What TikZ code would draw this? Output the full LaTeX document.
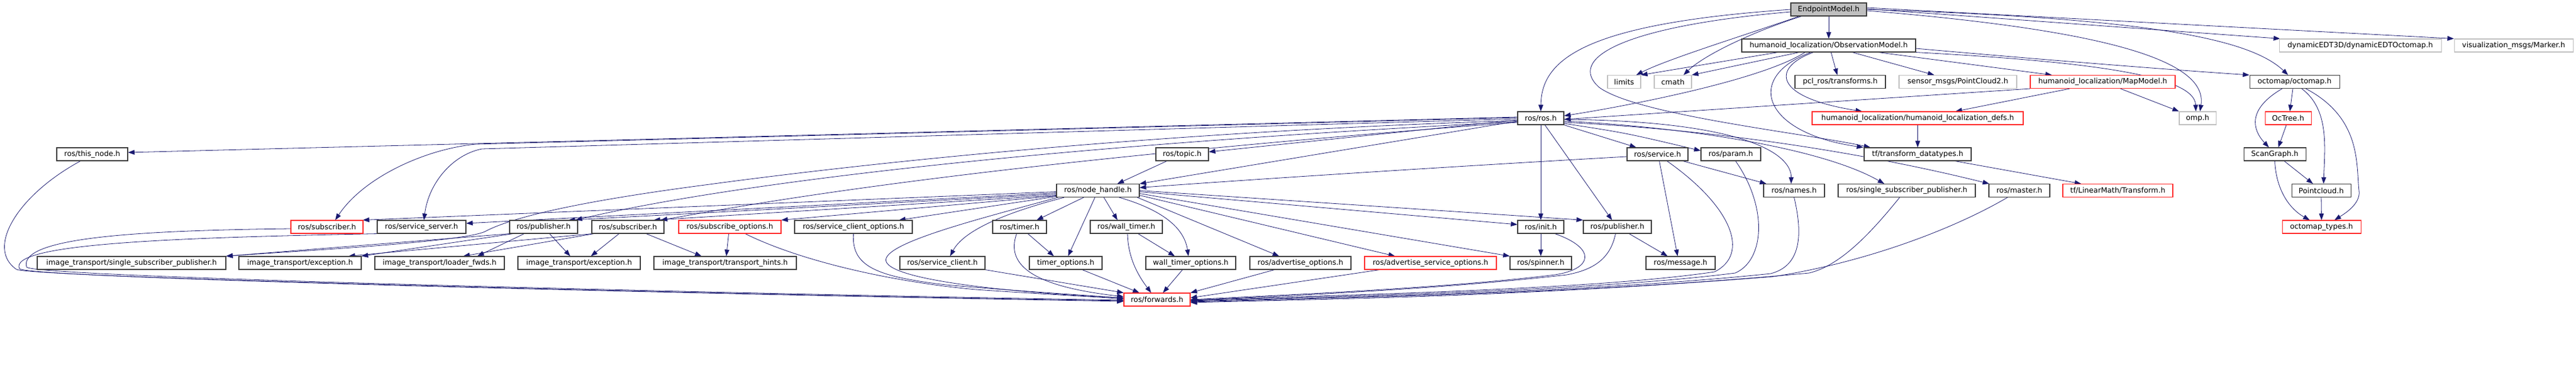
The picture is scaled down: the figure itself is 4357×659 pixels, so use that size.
\documentclass[tikz,border=0pt]{standalone}
\usepackage{fontspec}
\setmainfont{DejaVu Sans}
\usetikzlibrary{arrows.meta}
\definecolor{edgeblue}{RGB}{25,25,112}
\definecolor{nodegray}{RGB}{191,191,191}
\definecolor{rootfill}{RGB}{191,191,191}
\definecolor{redbox}{RGB}{255,40,40}
\definecolor{blackbox}{RGB}{60,60,60}
\pgfdeclarelayer{bg}
\pgfsetlayers{bg,main}
\begin{document}
\begin{tikzpicture}[x=1pt,y=-1pt,
 box/.style={draw=blackbox, line width=1.1pt, minimum height=22pt, inner sep=0pt, font=\fontsize{12.4}{14}\selectfont, fill=white},
 rbox/.style={box, draw=redbox},
 gbox/.style={box, draw=nodegray},
 e/.style={draw=edgeblue, line width=0.8pt, -{Triangle[length=11pt,width=8pt]}},
]
% nodes
\node[box, fill=rootfill, minimum width=128pt] (n0) at (3093,16) {EndpointModel.h};
\node[box, minimum width=294pt] (obs) at (3093,77) {humanoid\_localization/ObservationModel.h};
\node[gbox, minimum width=274pt] (dyn) at (3992,77) {dynamicEDT3D/dynamicEDTOctomap.h};
\node[gbox, minimum width=201pt] (mark) at (4251.5,77) {visualization\_msgs/Marker.h};
\node[gbox, minimum width=56pt] (lim) at (2747,138.5) {limits};
\node[gbox, minimum width=63pt] (cmath) at (2829.5,138.5) {cmath};
\node[box, minimum width=153pt] (pcl) at (3112.5,138.5) {pcl\_ros/transforms.h};
\node[gbox, minimum width=199pt] (sens) at (3311.5,138.5) {sensor\_msgs/PointCloud2.h};
\node[rbox, minimum width=245pt] (mapm) at (3556.5,138.5) {humanoid\_localization/MapModel.h};
\node[box, minimum width=152pt] (octo) at (3881,138.5) {octomap/octomap.h};
\node[box, minimum width=78pt] (ros) at (2606,200) {ros/ros.h};
\node[rbox, minimum width=357pt] (defs) at (3243.5,200) {humanoid\_localization/humanoid\_localization\_defs.h};
\node[gbox, minimum width=62pt] (omp) at (3717,200) {omp.h};
\node[rbox, minimum width=78pt] (octree) at (3870,200) {OcTree.h};
\node[box, minimum width=120pt] (thisn) at (156,261) {ros/this\_node.h};
\node[box, minimum width=89pt] (topic) at (1999.5,261) {ros/topic.h};
\node[box, minimum width=103pt] (serv) at (2803.5,261) {ros/service.h};
\node[box, minimum width=101pt] (param) at (2927.5,261) {ros/param.h};
\node[box, minimum width=181pt] (tfdt) at (3243.5,261) {tf/transform\_datatypes.h};
\node[box, minimum width=105pt] (scang) at (3847.5,261) {ScanGraph.h};
\node[box, minimum width=140pt] (nh) at (1857,322.5) {ros/node\_handle.h};
\node[box, minimum width=103pt] (names) at (3034.5,322.5) {ros/names.h};
\node[box, minimum width=232pt] (ssp) at (3225,322.5) {ros/single\_subscriber\_publisher.h};
\node[box, minimum width=103pt] (master) at (3415.5,322.5) {ros/master.h};
\node[rbox, minimum width=186pt] (tflm) at (3582,322.5) {tf/LinearMath/Transform.h};
\node[box, minimum width=100pt] (pcloud) at (3926,322.5) {Pointcloud.h};
\node[rbox, minimum width=122pt] (subr) at (553,384) {ros/subscriber.h};
\node[box, minimum width=150pt] (ssrv) at (713,384) {ros/service\_server.h};
\node[box, minimum width=115pt] (pub1) at (919.5,384) {ros/publisher.h};
\node[box, minimum width=122pt] (subb) at (1062,384) {ros/subscriber.h};
\node[rbox, minimum width=173pt] (subo) at (1234.5,384) {ros/subscribe\_options.h};
\node[box, minimum width=199pt] (sco) at (1443.5,384) {ros/service\_client\_options.h};
\node[box, minimum width=91pt] (timer) at (1724.5,384) {ros/timer.h};
\node[box, minimum width=122pt] (wtimer) at (1905,384) {ros/wall\_timer.h};
\node[box, minimum width=78pt] (init) at (2606,384) {ros/init.h};
\node[box, minimum width=115pt] (pub2) at (2735.5,384) {ros/publisher.h};
\node[rbox, minimum width=133pt] (otypes) at (3926.5,384) {octomap\_types.h};
\node[box, minimum width=319pt] (itssp) at (222.5,445) {image\_transport/single\_subscriber\_publisher.h};
\node[box, minimum width=207pt] (itex1) at (507.5,445) {image\_transport/exception.h};
\node[box, minimum width=219pt] (itlf) at (743.5,445) {image\_transport/loader\_fwds.h};
\node[box, minimum width=207pt] (itex2) at (979.5,445) {image\_transport/exception.h};
\node[box, minimum width=241pt] (itth) at (1226.5,445) {image\_transport/transport\_hints.h};
\node[box, minimum width=144pt] (sclient) at (1594,445) {ros/service\_client.h};
\node[box, minimum width=123pt] (topt) at (1802.5,445) {timer\_options.h};
\node[box, minimum width=152pt] (wtopt) at (2014,445) {wall\_timer\_options.h};
\node[box, minimum width=171pt] (advo) at (2199.5,445) {ros/advertise\_options.h};
\node[rbox, minimum width=223pt] (advso) at (2419.5,445) {ros/advertise\_service\_options.h};
\node[box, minimum width=104pt] (spin) at (2606,445) {ros/spinner.h};
\node[box, minimum width=117pt] (msg) at (2842.5,445) {ros/message.h};
\node[rbox, minimum width=112pt] (fwd) at (1957,507) {ros/forwards.h};

\begin{pgfonlayer}{bg}
\path[fill=white, use as bounding box] (0,0) rectangle (4357,659);
% root
\draw[e] (n0.south) -- (obs.north);
\draw[e] (n0.west) .. controls (2680,40) and (2607,100) .. (ros.north);
\draw[e] ([yshift=-4]n0.west) .. controls (2740,45) and (2650,100) .. (2705,148) .. controls (2770,195) and (3050,225) .. ([xshift=-80]tfdt.north);
\draw[e] ([xshift=-50]n0.south) .. controls (2950,60) and (2820,100) .. ([xshift=-8]lim.north east);
\draw[e] ([xshift=-46]n0.south) .. controls (2960,55) and (2880,95) .. ([xshift=-14]cmath.north east);
\draw[e] ([yshift=-2]n0.east) .. controls (3550,50) and (3735,100) .. ([xshift=4]omp.north);
\draw[e] (n0.east) .. controls (3600,30) and (3800,60) .. ([xshift=-11]octo.north);
\draw[e] ([yshift=1]n0.east) -- ([xshift=2]dyn.north west);
\draw[e] ([yshift=3]n0.east) -- (mark.north west);
% observation model
\draw[e] ([xshift=-86]obs.south) -- (lim.north east);
\draw[e] ([xshift=-50]obs.south) -- (cmath.north east);
\draw[e] ([xshift=-40]obs.south) .. controls (2980,135) and (2760,178) .. ([yshift=4]ros.east);
\draw[e] ([xshift=4]obs.south) -- ([xshift=-5]pcl.north);
\draw[e] ([xshift=40]obs.south) -- ([xshift=-40]sens.north);
\draw[e] ([xshift=84]obs.south) -- ([xshift=-86]mapm.north);
\draw[e] ([xshift=-26]obs.south) .. controls (2995,115) and (3000,165) .. ([xshift=-94]defs.north);
\draw[e] ([xshift=-30]obs.south) .. controls (2950,130) and (2980,225) .. ([xshift=-92]tfdt.north);
\draw[e] (obs.south east) .. controls (3550,105) and (3712,130) .. ([xshift=-3]omp.north);
\draw[e] ([yshift=-5]obs.east) .. controls (3500,105) and (3700,120) .. (octo.north west);
% map model
\draw[e] (mapm.south west) -- ([yshift=-2]ros.east);
\draw[e] ([xshift=-56]mapm.south) -- ([xshift=64]defs.north);
\draw[e] ([xshift=30]mapm.south) -- (omp.north west);
\draw[e] (defs.south) -- (tfdt.north);
\draw[e] ([xshift=63]tfdt.south) -- ([xshift=-62]tflm.north);
% octomap
\draw[e] ([xshift=-3]octo.south) -- ([xshift=3]octree.north);
\draw[e] ([xshift=-21]octo.south) .. controls (3800,185) and (3810,220) .. ([xshift=-10]scang.north);
\draw[e] ([xshift=-3]octree.south) -- ([xshift=6]scang.north);
\draw[e] ([xshift=12]octo.south) .. controls (3940,185) and (3932,250) .. ([xshift=4]pcloud.north);
\draw[e] ([xshift=19]octo.south) .. controls (3995,200) and (3985,280) .. (3990,323) .. controls (3993,345) and (3965,362) .. ([xshift=22]otypes.north);
\draw[e] ([xshift=16]scang.south) -- ([xshift=-14]pcloud.north);
\draw[e] (scang.south) .. controls (3850,325) and (3875,355) .. ([xshift=-20]otypes.north);
\draw[e] (pcloud.south) -- (otypes.north);
% ros.h
\draw[e] (ros.south) -- (init.north);
\draw[e] ([xshift=7]ros.south) -- ([xshift=-9]pub2.north);
\draw[e] (ros.south east) -- ([xshift=-36]serv.north);
\draw[e] ([yshift=-9]ros.east) .. controls (2750,225) .. ([yshift=6]param.west);
\draw[e] ([yshift=-2]ros.east) .. controls (2950,205) and (3030,260) .. ([xshift=-5]names.north);
\draw[e] ([yshift=-5]ros.east) .. controls (2850,215) and (3080,250) .. ([xshift=-38]ssp.north);
\draw[e] ([yshift=-7]ros.east) .. controls (2950,222) and (3200,270) .. ([xshift=-51]master.north);
\draw[e] ([yshift=2]ros.west) -- ([yshift=3]thisn.east);
\draw[e] ([yshift=1]ros.west) -- (805,244) .. controls (720,252) and (615,300) .. ([xshift=14]subr.north);
\draw[e] ([yshift=-1]ros.west) -- (815,252) .. controls (765,262) and (725,310) .. ([xshift=4]ssrv.north);
\draw[e] ([yshift=-3]ros.west) -- ([yshift=4]topic.east);
\draw[e] ([yshift=-5]ros.west) -- (nh.north east);
\draw[e] ([yshift=-6]ros.west) .. controls (1600,255) and (1150,330) .. ([xshift=-4]pub1.north east);
\draw[e] ([yshift=-7]ros.west) .. controls (1600,280) and (1250,350) .. ([xshift=-6]subb.north east);
\draw[e] ([yshift=-4]ros.west) .. controls (1900,225) and (1400,285) .. (1200,312) .. controls (1000,338) and (870,365) .. (820,392) .. controls (780,410) and (500,425) .. (itssp.north east);
% node_handle
\draw[e] ([yshift=-2]nh.west) -- ([xshift=-1]subr.north east);
\draw[e] ([yshift=-4]nh.west) -- ([yshift=6]ssrv.east);
\draw[e] ([yshift=-6]nh.west) -- ([xshift=-16]pub1.north east);
\draw[e] ([yshift=-8]nh.west) -- ([xshift=-18]subb.north east);
\draw[e] ([yshift=-9]nh.west) -- (subo.north east);
\draw[e] ([yshift=-10]nh.west) -- ([xshift=-23]sco.north east);
\draw[e] ([xshift=-57]nh.south) .. controls (1700,360) and (1630,390) .. ([xshift=13]sclient.north);
\draw[e] ([xshift=-24]nh.south) -- ([xshift=29]timer.north);
\draw[e] ([xshift=-5]nh.south) -- ([xshift=4]topt.north);
\draw[e] ([xshift=10]nh.south) -- ([xshift=-15]wtimer.north);
\draw[e] ([xshift=36]nh.south) .. controls (1965,355) and (2003,385) .. ([xshift=-4]wtopt.north);
\draw[e] ([xshift=-4]nh.south east) -- ([xshift=-36]advo.north);
\draw[e] ([yshift=-8]nh.east) -- ([xshift=-60]advso.north);
\draw[e] ([yshift=-5]nh.east) -- (spin.north west);
\draw[e] ([yshift=-2]nh.east) -- ([yshift=4]init.west);
\draw[e] (nh.east) -- (pub2.north west);
\draw[e] ([xshift=3]nh.south west) .. controls (1650,372) and (1480,415) .. (1500,445) .. controls (1525,482) and (1800,500) .. ([yshift=3]fwd.west);
\draw[e] ([xshift=-26]topic.south) -- ([xshift=33]nh.north);
% service etc.
\draw[e] ([yshift=-4]serv.west) .. controls (2400,285) and (2100,305) .. ([yshift=5]nh.east);
\draw[e] ([xshift=43]serv.south) -- ([xshift=-47]names.north);
\draw[e] ([xshift=3]serv.south) -- ([xshift=-5]msg.north);
\draw[e] ([xshift=16]serv.south) .. controls (2930,350) and (2960,430) .. (2900,460) .. controls (2700,490) and (2300,498) .. ([yshift=-1]fwd.east);
\draw[e] ([xshift=8]param.south) .. controls (2990,350) and (2985,440) .. (2935,462) .. controls (2700,492) and (2300,500) .. ([yshift=-2]fwd.east);
\draw[e] (names.south) .. controls (3050,400) and (3045,450) .. (2995,463) .. controls (2700,494) and (2300,502) .. ([yshift=-3]fwd.east);
\draw[e] ([xshift=-12]ssp.south) .. controls (3160,400) and (3110,450) .. (3060,462) .. controls (2700,496) and (2300,503) .. ([yshift=-4]fwd.east);
\draw[e] ([xshift=-20]master.south) .. controls (3300,390) and (3150,445) .. (3000,468) .. controls (2600,500) and (2300,505) .. ([yshift=-5]fwd.east);
\draw[e] ([xshift=-3]pub2.south) .. controls (2725,430) and (2705,455) .. (2650,465) .. controls (2450,488) and (2200,500) .. ([yshift=-1]fwd.east);
\draw[e] ([xshift=24]init.south) .. controls (2700,420) and (2695,455) .. (2630,465) .. controls (2450,487) and (2200,498) .. (fwd.east);
\draw[e] ([xshift=20]pub2.south) -- ([xshift=-22]msg.north);
\draw[e] (init.south) -- (spin.north);
\draw[e] ([xshift=-86]advso.south) -- ([yshift=3]fwd.east);
\draw[e] ([xshift=-44]advo.south) -- (fwd.north east);
\draw[e] ([xshift=-14]wtopt.south) -- ([xshift=10]fwd.north);
\draw[e] ([xshift=2]wtimer.south) .. controls (1908,440) and (1928,470) .. ([xshift=-10]fwd.north);
\draw[e] ([xshift=20]wtimer.south) -- ([xshift=-27]wtopt.north);
\draw[e] ([xshift=28]topt.south) -- ([xshift=-30]fwd.north);
\draw[e] ([xshift=14]timer.south) -- ([xshift=-20]topt.north);
\draw[e] ([xshift=-5]timer.south) .. controls (1700,450) and (1750,485) .. ([yshift=5]fwd.west);
\draw[e] (sclient.south east) -- (fwd.north west);
\draw[e] (sco.south) .. controls (1440,450) and (1480,468) .. (1600,482) .. controls (1750,495) and (1850,500) .. ([yshift=2]fwd.west);
\draw[e] ([xshift=26]subo.south) .. controls (1350,440) and (1500,476) .. (1650,490) .. controls (1750,497) and (1850,502) .. ([yshift=1]fwd.west);
\draw[e] ([xshift=-2]subo.south) -- ([xshift=2]itth.north);
% image_transport
\draw[e] (pub1.south west) -- (itssp.north east);
\draw[e] ([xshift=6]pub1.south west) -- (itex1.north east);
\draw[e] ([xshift=-33]pub1.south) -- ([xshift=64]itlf.north);
\draw[e] ([xshift=10]pub1.south) -- ([xshift=-15]itex2.north);
\draw[e] ([xshift=-15]subb.south) -- ([xshift=20]itex2.north);
\draw[e] ([xshift=31]subb.south) -- ([xshift=-40]itth.north);
\draw[e] ([xshift=4]subb.south west) -- ([xshift=40]itlf.north);
\draw[e] ([xshift=1]subb.south west) -- ([xshift=-22]itex1.north east);
% loops to forwards
\draw[e] ([xshift=-20]thisn.south) .. controls (30,330) and (-25,420) .. (28,456) .. controls (60,470) and (1300,500) .. ([yshift=-2]fwd.west);
\draw[e] ([yshift=-3]subr.west) .. controls (250,390) and (30,400) .. (45,452) .. controls (60,470) and (1300,498) .. ([yshift=-1]fwd.west);
\draw[e] (ssrv.south west) .. controls (300,402) and (12,412) .. (33,455) .. controls (60,472) and (1300,500) .. ([yshift=-3]fwd.west);
\end{pgfonlayer}
\end{tikzpicture}
\end{document}
